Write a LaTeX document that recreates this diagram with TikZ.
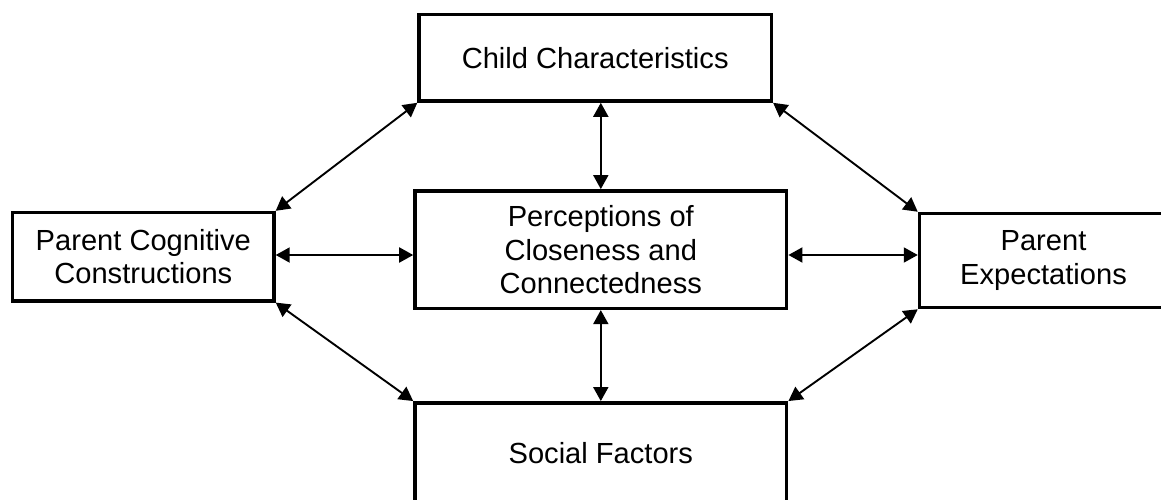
\documentclass[tikz,border=0pt]{standalone}
\usepackage{fontspec}
\setmainfont{Liberation Sans}
\usetikzlibrary{arrows.meta}
\begin{document}
\begin{tikzpicture}[x=1pt,y=-1pt,
  box/.style={draw=black, line width=3.5pt, rectangle, inner sep=0pt, align=center,
    font=\fontsize{29.1}{33.5}\selectfont},
  link/.style={line width=1.9pt, {Triangle[length=14pt,width=15pt]}-{Triangle[length=14pt,width=15pt]}}
]
\useasboundingbox (0,0) rectangle (1161,500);
\clip (0,0) rectangle (1161,500);
\node[box, minimum width=352.3pt, minimum height=86.3pt] (child) at (595.2,57.9) {Child Characteristics};
\node[box, minimum width=371.7pt, minimum height=117.5pt] (perc) at (600.8,249.6) {Perceptions of\\Closeness and\\Connectedness};
\node[box, minimum width=261.3pt, minimum height=88.3pt] (cog) at (143.3,256.7) {Parent Cognitive\\Constructions};
\node[box, minimum width=248pt, minimum height=94pt] (exp) at (1043.5,260.5) {Parent\\Expectations};
\node[box, minimum width=371.7pt, minimum height=100.2pt] (soc) at (600.8,452.9) {Social Factors};
\coordinate (hy) at (0,255);
\draw[link] (perc.north) -- (perc.north |- child.south);
\draw[link] (perc.south) -- (soc.north);
\draw[link] (cog.east |- hy) -- (perc.west |- hy);
\draw[link] (perc.east |- hy) -- (exp.west |- hy);
\draw[link] (child.south west) -- (cog.north east);
\draw[link] (child.south east) -- (exp.north west);
\draw[link] (cog.south east) -- (soc.north west);
\draw[link] (exp.south west) -- (soc.north east);
\end{tikzpicture}
\end{document}
